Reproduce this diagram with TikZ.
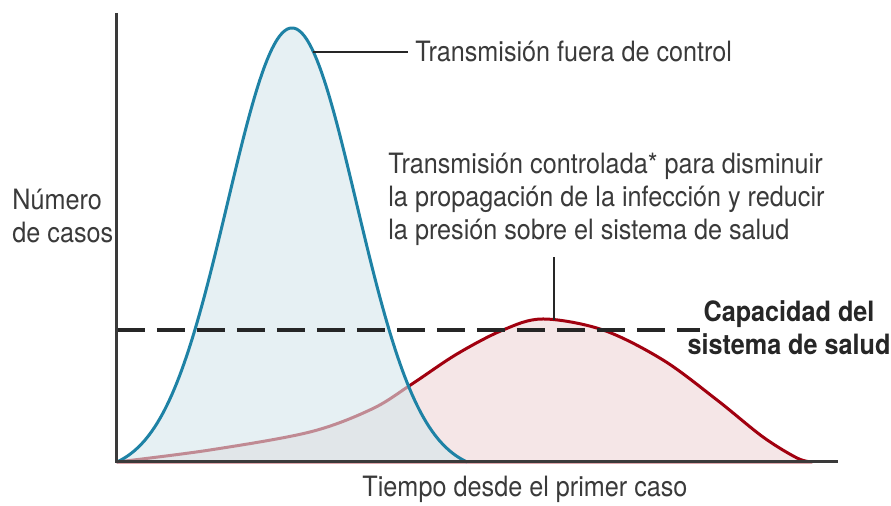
\documentclass[tikz,border=0pt]{standalone}
\usepackage{fontspec}
\setmainfont{TeX Gyre Heros}[FakeStretch=0.9]
\usetikzlibrary{calc}
\definecolor{BTeal}{HTML}{1E82A5}
\definecolor{BMist}{HTML}{D5E6EB}
\definecolor{RCrimson}{HTML}{A1000F}
\definecolor{RBlush}{HTML}{F5E6E7}
\definecolor{TGraphite}{HTML}{3A3A3A}
\definecolor{LInk}{HTML}{262626}
\tikzset{
    txt/.style = {inner sep=0pt, text=TGraphite,
        font=\fontsize{14pt}{16.5pt}\selectfont},
    boldtxt/.style = {txt, text=LInk,
        font=\fontsize{14pt}{16.5pt}\selectfont\bfseries},
    curve/.style = {line width=1.5pt, line join=round},
    axis/.style = {draw=TGraphite, line width=1.5pt},
    leader/.style = {draw=LInk, line width=1pt},
    capline/.style = {draw=LInk, line width=2pt, dash pattern=on 14pt off 6pt}
}
\begin{document}
\begin{tikzpicture}[x=0.5pt,y=0.5pt]
    \useasboundingbox (-117,-44) rectangle (774,462);
    \coordinate (o) at (0,0);
    \coordinate (ytop) at (0,449);
    \coordinate (xend) at (721,0);
    \filldraw[curve, draw=RCrimson, fill=RBlush] plot[smooth, tension=0.55] coordinates {(0,0) (93,12) (193,30) (255,53) (295,78) (340,108) (386,132) (426,143) (486,132) (546,102) (600,62) (646,25) (680,4) (695,0)} -- cycle;
    \fill[BMist, fill opacity=0.6] plot[domain=-175:175, samples=141] ({175+\x},{434*(exp(-((\x/64.5)^2)/2)-0.0252)/0.9748}) -- cycle;
    \draw[curve, BTeal] plot[domain=-175:175, samples=141] ({175+\x},{434*(exp(-((\x/64.5)^2)/2)-0.0252)/0.9748});
    \coordinate (capstart) at (0,132);
    \coordinate (capend) at (583,132);
    \draw[capline] (capstart) -- (capend);
    \draw[axis] (ytop) -- (o) -- (xend);
    \coordinate (bluetip) at (196,410);
    \coordinate (redtop) at (437,142);
    \node[txt, anchor=base west, inner xsep=3.5pt] (fuera) at (291,400) {Transmisión fuera de control};
    \node[txt, align=left, anchor=base west] (controlada) at (271,222) {Transmisión controlada* para disminuir\\la propagación de la infección y reducir\\la presión sobre el sistema de salud};
    \node[boldtxt, align=center, anchor=base] (capacidad) at (672,107) {Capacidad del\\sistema de salud};
    \node[txt, align=left, anchor=base west] (numero) at (-105,219) {Número\\de casos};
    \node[txt, anchor=base] (tiempo) at (408,-35) {Tiempo desde el primer caso};
    \draw[leader] (bluetip) -- (bluetip -| fuera.west);
    \draw[leader, shorten >=5.5pt] (redtop) -- (redtop |- controlada.south);
\end{tikzpicture}
\end{document}
